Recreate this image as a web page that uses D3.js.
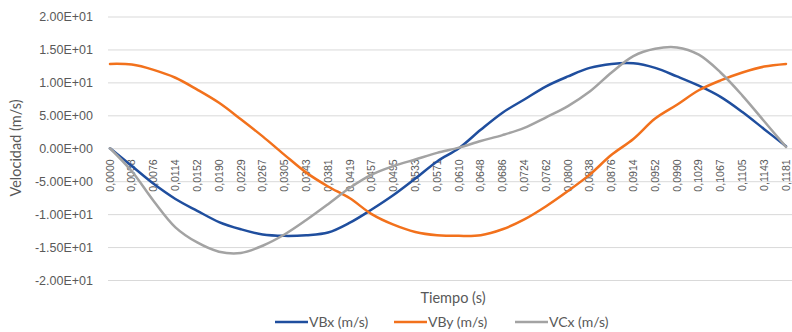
<!DOCTYPE html>
<html>
<head>
<meta charset="utf-8">
<script src="https://cdn.jsdelivr.net/npm/d3@7"></script>
<style>
  html, body { margin: 0; padding: 0; background: #fff; }
  svg { display: block; font-family: Lato, "Open Sans", sans-serif; }
</style>
</head>
<body>
<svg id="chart" width="792" height="332"></svg>
<script>
// Time samples (s), shown as category labels
const tiempo = ["0,0000","0,0038","0,0076","0,0114","0,0152","0,0190","0,0229","0,0267",
  "0,0305","0,0343","0,0381","0,0419","0,0457","0,0495","0,0533","0,0571",
  "0,0610","0,0648","0,0686","0,0724","0,0762","0,0800","0,0838","0,0876",
  "0,0914","0,0952","0,0990","0,1029","0,1067","0,1105","0,1143","0,1181"];

// Velocities (m/s)
const vBx = [0, -2.7, -5.4, -7.7, -9.5, -11.2, -12.3, -13.1,
  -13.3, -13.2, -12.8, -11.3, -9.3, -7.1, -4.6, -2.0,
  0.0, 2.8, 5.4, 7.4, 9.4, 10.9, 12.2, 12.8,
  12.9, 12.2, 10.9, 9.5, 7.8, 5.5, 2.9, 0.3];
const vBy = [12.8, 12.7, 11.9, 10.7, 8.9, 6.9, 4.4, 1.8,
  -1.0, -3.7, -5.8, -7.6, -10.0, -11.6, -12.7, -13.2,
  -13.3, -13.2, -12.3, -10.8, -8.8, -6.5, -4.0, -1.0,
  1.4, 4.5, 6.6, 8.8, 10.3, 11.5, 12.4, 12.8];
const vCx = [0, -3.5, -8.0, -12.0, -14.3, -15.7, -15.9, -14.8,
  -13.1, -10.9, -8.5, -6.0, -4.0, -2.7, -1.7, -0.7,
  0.1, 1.1, 2.0, 3.1, 4.7, 6.4, 8.6, 11.5,
  14.0, 15.1, 15.3, 14.2, 11.5, 8.0, 4.1, 0.2];

const seriesNames = ["VBx (m/s)", "VBy (m/s)", "VCx (m/s)"];
const seriesColors = ["#1f4e9e", "#f2711c", "#a3a3a3"];
const yTicks = [-20, -15, -10, -5, 0, 5, 10, 15, 20];

const series = [vBx, vBy, vCx].map((v, i) => ({ name: seriesNames[i], color: seriesColors[i], values: v }));

const svg = d3.select("#chart");
const plotLeft = 110, plotRight = 786, plotTop = 16.5, plotBottom = 280;

const x = d3.scalePoint().domain(tiempo).range([plotLeft, plotRight]).padding(0);
const y = d3.scaleLinear().domain([-20, 20]).range([plotBottom, plotTop]);

// Excel-style scientific notation: 1.50E+01
function sci(v) {
  const [m, e] = v.toExponential(2).split("e");
  const n = Math.abs(+e);
  return m + "E" + (+e < 0 ? "-" : "+") + (n < 10 ? "0" + n : n);
}

// Horizontal gridlines with value labels
const yAxis = svg.append("g")
  .attr("transform", `translate(${plotLeft - 2},0)`)
  .call(d3.axisLeft(y).tickValues(yTicks).tickFormat(sci)
    .tickSize(-(792 - plotLeft + 2)).tickPadding(15));
yAxis.select(".domain").remove();
yAxis.selectAll(".tick line").attr("stroke", "#d9d9d9").attr("stroke-width", 1);
yAxis.selectAll(".tick text")
  .attr("fill", "#595959").style("font-size", "12.5px");

// Category axis along zero, labels rotated
const xAxis = svg.append("g")
  .attr("transform", `translate(0,${y(0)})`)
  .call(d3.axisBottom(x).tickSize(0));
xAxis.select(".domain").remove();
xAxis.selectAll(".tick text")
  .attr("transform", "rotate(-90)")
  .attr("x", -11).attr("y", 0).attr("dy", "0.3em")
  .attr("text-anchor", "end")
  .attr("fill", "#595959")
  .style("font-size", "10.6px");

// Series lines, smoothed
const line = d3.line()
  .x((d, i) => x(tiempo[i]))
  .y(d => y(d))
  .curve(d3.curveCatmullRom);
svg.append("g").selectAll("path")
  .data(series)
  .join("path")
  .attr("d", d => line(d.values))
  .attr("fill", "none")
  .attr("stroke", d => d.color)
  .attr("stroke-width", 2.5)
  .attr("stroke-linejoin", "round")
  .attr("stroke-linecap", "round");

// Axis titles
svg.append("text")
  .attr("x", 453).attr("y", 303)
  .attr("text-anchor", "middle")
  .attr("fill", "#595959")
  .style("font-size", "14.5px")
  .text("Tiempo (s)");

svg.append("text")
  .attr("transform", "translate(21,148) rotate(-90)")
  .attr("text-anchor", "middle")
  .attr("fill", "#595959")
  .style("font-size", "14.5px")
  .text("Velocidad (m/s)");

// Legend
const legendX = [275, 394, 515];
const legend = svg.append("g").selectAll("g")
  .data(series)
  .join("g")
  .attr("transform", (d, i) => `translate(${legendX[i]},322)`);
legend.append("line")
  .attr("x1", 0).attr("x2", 33).attr("y1", 0).attr("y2", 0)
  .attr("stroke", d => d.color).attr("stroke-width", 2.5);
legend.append("text")
  .attr("x", 34).attr("dy", "0.35em")
  .attr("fill", "#595959")
  .style("font-size", "14px")
  .text(d => d.name);
</script>
</body>
</html>
